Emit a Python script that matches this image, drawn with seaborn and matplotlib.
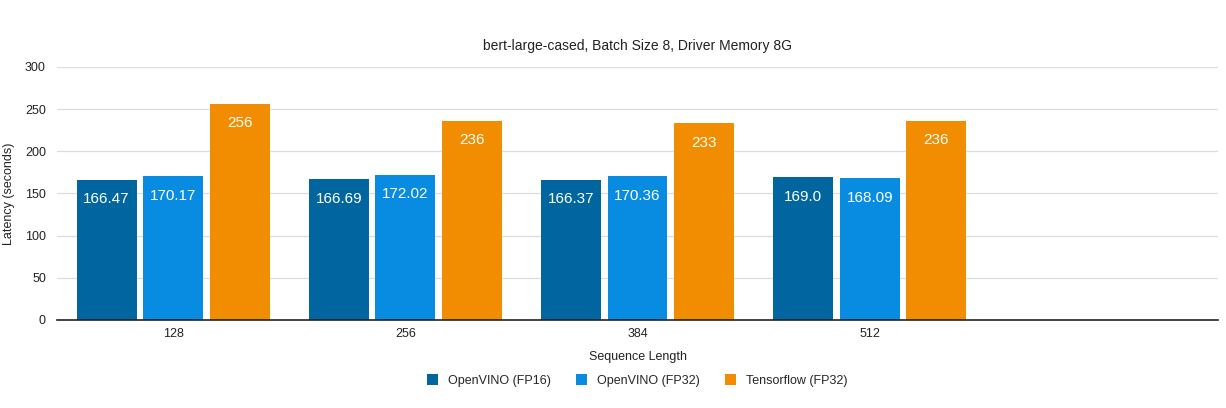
import matplotlib
matplotlib.use("Agg")
import matplotlib.pyplot as plt
import seaborn as sns
import pandas as pd

categories = ["128", "256", "384", "512"]
series_names = ["OpenVINO (FP16)", "OpenVINO (FP32)", "Tensorflow (FP32)"]
openvino_fp16 = [166.47, 166.69, 166.37, 169.0]
openvino_fp32 = [170.17, 172.02, 170.36, 168.09]
tensorflow_fp32 = [256, 236, 233, 236]
label_texts = [
    ["166.47", "166.69", "166.37", "169.0"],
    ["170.17", "172.02", "170.36", "168.09"],
    ["256", "236", "233", "236"],
]
colors = ["#01669f", "#078ce2", "#f28c00"]

rows = []
for name, vals in zip(series_names, [openvino_fp16, openvino_fp32, tensorflow_fp32]):
    for c, v in zip(categories, vals):
        rows.append({"Sequence Length": c, "Latency": v, "Series": name})
df = pd.DataFrame(rows)

sns.set_style("white")
plt.rcParams["font.family"] = ["Liberation Sans", "DejaVu Sans"]

fig = plt.figure(figsize=(12.26, 4.08), dpi=100)
ax = fig.add_axes([0.0465, 0.2157, 0.9470, 0.6201])

sns.barplot(data=df, x="Sequence Length", y="Latency", hue="Series",
            order=categories, hue_order=series_names, palette=colors,
            width=0.86, gap=0.1, ax=ax, errorbar=None, saturation=1,
            linewidth=0, legend=True)

for i, cont in enumerate(ax.containers):
    ax.bar_label(cont, labels=label_texts[i], padding=-19, color="white",
                 fontsize=11)

ax.set_xlim(-0.5, 4.5)
ax.set_ylim(0, 300)
ax.set_yticks([0, 50, 100, 150, 200, 250, 300])
ax.yaxis.grid(True, color="#dddddd", linewidth=0.9)
ax.set_axisbelow(True)
for s in ["top", "right", "left"]:
    ax.spines[s].set_visible(False)
ax.spines["bottom"].set_color("#222222")
ax.spines["bottom"].set_linewidth(1.2)
ax.tick_params(axis="both", length=0, labelsize=9, colors="#222222")
ax.tick_params(axis="y", pad=8)
ax.tick_params(axis="x", pad=6)
ax.set_xlabel("Sequence Length", fontsize=9, color="#222222", labelpad=8)
ax.set_ylabel("Latency (seconds)", fontsize=9, color="#222222")
ax.yaxis.set_label_coords(-0.036, 0.5)
ax.set_title("bert-large-cased, Batch Size 8, Driver Memory 8G", fontsize=10,
             color="#222222", pad=12)

leg = ax.legend(loc="upper center", bbox_to_anchor=(0.5, -0.17), ncol=3,
                frameon=False, fontsize=9, handlelength=0.9, handleheight=0.9,
                columnspacing=2.0, handletextpad=0.8)

fig.savefig("out.png", dpi=100, facecolor="white")
